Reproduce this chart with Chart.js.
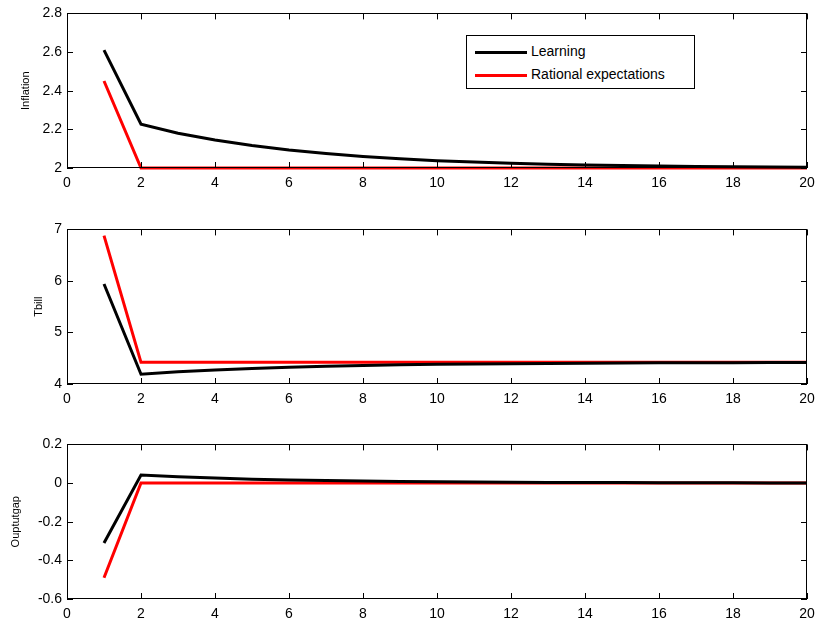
<!DOCTYPE html>
<html>
<head>
<meta charset="utf-8">
<script src="https://cdn.jsdelivr.net/npm/chart.js@4.4.1/dist/chart.umd.min.js"></script>
<style>
  body { margin: 0; background: #fff; font-family: Arial, "Liberation Sans", sans-serif; }
  #page { position: relative; width: 817px; height: 625px; }
  .panel { position: absolute; left: 0; width: 817px; height: 200px; }
  #legend {
    position: absolute; left: 466px; top: 35px; width: 227px; height: 52px;
    border: 1px solid #000; background: #fff; font-size: 14px; color: #000;
  }
  #legend .row { position: absolute; left: 8px; height: 18px; line-height: 18px; white-space: nowrap; }
  #legend .swatch { display: inline-block; width: 52px; height: 3px; vertical-align: middle; margin-right: 4px; }
</style>
</head>
<body>
<div id="page">
  <div class="panel" style="top:0px"><canvas id="inflChart"></canvas></div>
  <div class="panel" style="top:216px"><canvas id="tbillChart"></canvas></div>
  <div class="panel" style="top:431px"><canvas id="gapChart"></canvas></div>
  <div id="legend">
    <div class="row" style="top:6px"><span class="swatch" style="background:#000"></span>Learning</div>
    <div class="row" style="top:29px"><span class="swatch" style="background:#ff0000"></span>Rational expectations</div>
  </div>
</div>
<script>
// periods
const periods = [1, 2, 3, 4, 5, 6, 7, 8, 9, 10, 11, 12, 13, 14, 15, 16, 17, 18, 19, 20];

// Inflation
const inflLearning = [2.61, 2.227, 2.18, 2.145, 2.116, 2.093, 2.075, 2.06, 2.048, 2.038,
  2.031, 2.025, 2.02, 2.016, 2.013, 2.01, 2.008, 2.006, 2.005, 2.004];
const inflRational = [2.45, 2, 2, 2, 2, 2, 2, 2, 2, 2, 2, 2, 2, 2, 2, 2, 2, 2, 2, 2];

// Tbill
const tbillLearning = [5.94, 4.19, 4.236, 4.27, 4.302, 4.326, 4.345, 4.36, 4.372, 4.381,
  4.389, 4.395, 4.4, 4.404, 4.407, 4.41, 4.412, 4.414, 4.415, 4.416];
const tbillRational = [6.88, 4.42, 4.42, 4.42, 4.42, 4.42, 4.42, 4.42, 4.42, 4.42,
  4.42, 4.42, 4.42, 4.42, 4.42, 4.42, 4.42, 4.42, 4.42, 4.42];

// Output gap
const gapLearning = [-0.31, 0.042, 0.033, 0.026, 0.02, 0.016, 0.013, 0.01, 0.008, 0.0067,
  0.0054, 0.0043, 0.0034, 0.0027, 0.0022, 0.0018, 0.0014, 0.0011, 0.0009, 0.0007];
const gapRational = [-0.49, 0, 0, 0, 0, 0, 0, 0, 0, 0, 0, 0, 0, 0, 0, 0, 0, 0, 0, 0];

// tick labels
const xTicks = [0, 2, 4, 6, 8, 10, 12, 14, 16, 18, 20];
const inflTicks = [2, 2.2, 2.4, 2.6, 2.8];
const tbillTicks = [4, 5, 6, 7];
const gapTicks = [-0.6, -0.4, -0.2, 0, 0.2];

const FONT = "Arial, 'Liberation Sans', sans-serif";

// draws the matlab style box, inward ticks and the rotated y label
const boxPlugin = {
  id: "matlabBox",
  afterDraw(chart, args, opts) {
    const ctx = chart.ctx;
    const a = chart.chartArea;
    const x = chart.scales.x;
    const y = chart.scales.y;
    const tl = 6;
    ctx.save();
    ctx.strokeStyle = "#000";
    ctx.lineWidth = 1;
    ctx.strokeRect(Math.round(a.left) + 0.5, Math.round(a.top) + 0.5,
      Math.round(a.right - a.left) - 1, Math.round(a.bottom - a.top) - 1);
    ctx.beginPath();
    x.ticks.forEach((t) => {
      const px = Math.round(x.getPixelForValue(t.value)) + 0.5;
      ctx.moveTo(px, a.bottom); ctx.lineTo(px, a.bottom - tl);
      ctx.moveTo(px, a.top); ctx.lineTo(px, a.top + tl);
    });
    y.ticks.forEach((t) => {
      const py = Math.round(y.getPixelForValue(t.value)) + 0.5;
      ctx.moveTo(a.left, py); ctx.lineTo(a.left + tl, py);
      ctx.moveTo(a.right, py); ctx.lineTo(a.right - tl, py);
    });
    ctx.stroke();
    // y axis label
    ctx.translate(opts.labelX, (a.top + a.bottom) / 2);
    ctx.rotate(-Math.PI / 2);
    ctx.fillStyle = "#000";
    ctx.font = "11px " + FONT;
    ctx.textAlign = "center";
    ctx.textBaseline = "middle";
    ctx.fillText(opts.label, 0, 0);
    ctx.restore();
  },
};

function drawPanel(id, learning, rational, yTicks, label, labelX) {
  const ctx = document.getElementById(id).getContext("2d");
  return new Chart(ctx, {
    type: "line",
    data: {
      datasets: [
        {
          label: "Learning",
          data: periods.map((p, i) => ({ x: p, y: learning[i] })),
          borderColor: "#000000",
          borderWidth: 3,
          pointRadius: 0,
          tension: 0,
          clip: false,
        },
        {
          label: "Rational expectations",
          data: periods.map((p, i) => ({ x: p, y: rational[i] })),
          borderColor: "#ff0000",
          borderWidth: 3,
          pointRadius: 0,
          tension: 0,
          clip: false,
        },
      ],
    },
    options: {
      responsive: true,
      maintainAspectRatio: false,
      animation: false,
      events: [],
      layout: { padding: { top: 13, right: 10, left: 0, bottom: 0 } },
      plugins: {
        legend: { display: false },
        tooltip: { enabled: false },
        matlabBox: { label: label, labelX: labelX },
      },
      scales: {
        x: {
          type: "linear",
          min: xTicks[0],
          max: xTicks[xTicks.length - 1],
          afterBuildTicks: (s) => { s.ticks = xTicks.map((v) => ({ value: v })); },
          afterFit: (s) => { s.height = 32; s.paddingLeft = 0; s.paddingRight = 0; },
          grid: { display: false, drawTicks: false },
          border: { display: false },
          ticks: { color: "#000", padding: 7, maxRotation: 0, font: { family: FONT, size: 14 } },
        },
        y: {
          type: "linear",
          min: yTicks[0],
          max: yTicks[yTicks.length - 1],
          afterBuildTicks: (s) => { s.ticks = yTicks.map((v) => ({ value: v })); },
          afterFit: (s) => { s.width = 67; },
          grid: { display: false, drawTicks: false },
          border: { display: false },
          ticks: {
            color: "#000",
            padding: 5,
            font: { family: FONT, size: 14 },
            callback: (v) => String(Math.round(v * 10) / 10),
          },
        },
      },
    },
    plugins: [boxPlugin],
  });
}

drawPanel("inflChart", inflLearning, inflRational, inflTicks, "Inflation", 26);
drawPanel("tbillChart", tbillLearning, tbillRational, tbillTicks, "Tbill", 39);
drawPanel("gapChart", gapLearning, gapRational, gapTicks, "Ouptutgap", 16);
</script>
</body>
</html>
